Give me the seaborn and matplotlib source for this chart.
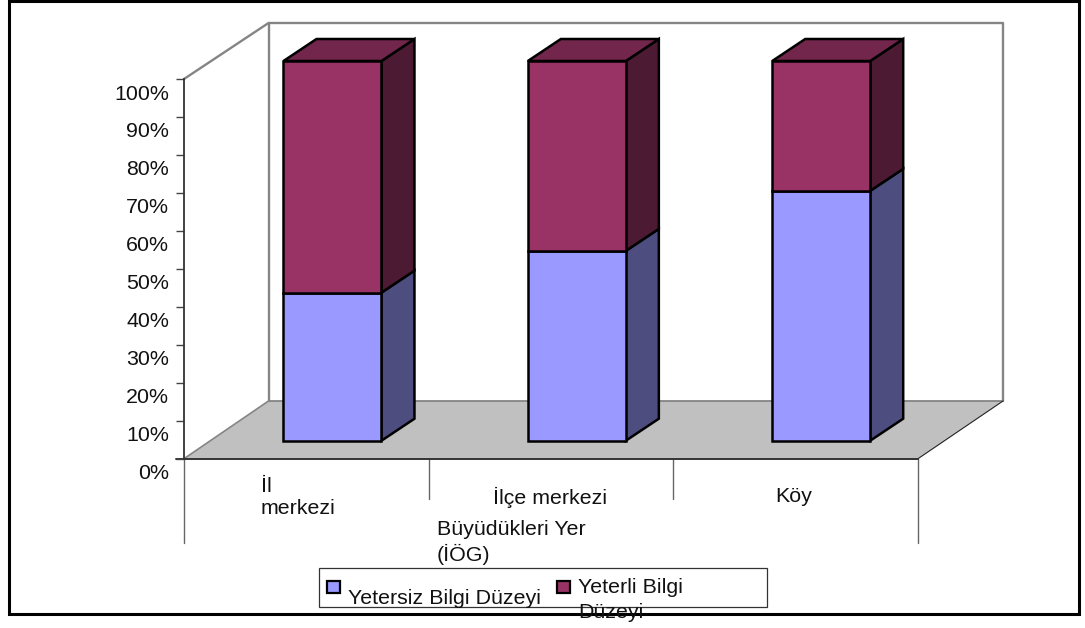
import matplotlib
matplotlib.use("Agg")
import matplotlib.pyplot as plt
from matplotlib.patches import Polygon, Rectangle
from matplotlib.ticker import PercentFormatter
from matplotlib.transforms import ScaledTranslation
import seaborn as sns

# Survey shares by the place the respondents grew up in
categories = ["İl merkezi", "İlçe merkezi", "Köy"]
category_labels = ["İl\nmerkezi", "İlçe merkezi", "Köy"]
yetersiz = [39.0, 50.0, 65.8]
yeterli = [61.0, 50.0, 34.2]
series_names = ["Yetersiz Bilgi Düzeyi", "Yeterli Bilgi\nDüzeyi"]
axis_title = "Büyüdükleri Yer\n(İÖG)"
percent_ticks = list(range(0, 101, 10))

BLUE, BLUE_SIDE = "#9999FF", "#4D4D80"
RED, RED_SIDE, RED_TOP = "#993366", "#4D1A33", "#72264C"

W, H = 1085, 628
DPI = 100
FONT = 15.4
EDGE = 1.8


def box(left, top, right, bottom):
    return [left / W, 1 - bottom / H, (right - left) / W, (bottom - top) / H]


sns.set_style("white")
plt.rcParams["font.family"] = ["Liberation Sans", "DejaVu Sans"]
plt.rcParams["text.color"] = "#111111"

fig = plt.figure(figsize=(W / DPI, H / DPI), dpi=DPI, facecolor="white")

# Pixel-scaled layer for the frame, walls, floor and captions
bg = fig.add_axes([0, 0, 1, 1], zorder=0)
bg.set_xlim(0, W)
bg.set_ylim(H, 0)
bg.axis("off")

bg.add_patch(Rectangle((8.5, 1), 1070.5, 613, fill=False, ec="black", lw=2.2, zorder=1))

wall_grey = "#858585"
bg.add_patch(Polygon([(184, 458.7), (268.5, 401), (1003, 401), (918, 458.7)],
                     fc="#C0C0C0", ec="none", zorder=1))
bg.plot([184, 268.5, 1003, 1003], [79, 23, 23, 401], color=wall_grey, lw=1.7, zorder=2)
bg.plot([268.5, 268.5], [23, 401], color=wall_grey, lw=1.7, zorder=2)
bg.plot([268.5, 1003], [401, 401], color=wall_grey, lw=1.3, zorder=2)
bg.plot([184, 268.5], [458.7, 401], color=wall_grey, lw=1.2, zorder=2)
bg.plot([918, 1003], [458.7, 401], color="#222222", lw=0.8, zorder=2)
bg.plot([176, 918], [458.7, 458.7], color="#333333", lw=1.4, zorder=3)

# Category dividers under the floor
for x, y_end in [(184, 543), (428.5, 499), (673, 499), (918, 543)]:
    bg.plot([x, x], [458.7, y_end], color="#666666", lw=1.0, zorder=2)

for (x, y), label in zip([(261, 497.5), (493, 497), (775, 497)], category_labels):
    bg.text(x, y, label, fontsize=FONT, ha="left", va="center", linespacing=1.25, zorder=5)
bg.text(437, 542.5, axis_title, fontsize=FONT, ha="left", va="center", linespacing=1.3, zorder=5)

# Legend row, its labels spill past the box as in the layout of the chart
bg.add_patch(Rectangle((319, 568), 448, 38.5, fc="white", ec="#333333", lw=0.9, zorder=3))
for x, color in [(326.5, BLUE), (556.5, RED)]:
    bg.add_patch(Rectangle((x, 580.5), 13, 12.5, fc=color, ec="black", lw=1.6, zorder=4))
bg.text(348, 598, series_names[0], fontsize=FONT, ha="left", va="center", zorder=5)
bg.text(578, 600, series_names[1], fontsize=FONT, ha="left", va="center", linespacing=1.35, zorder=5)

# Front plane of the columns: 0-100 % between the floor and the column tops
ax = fig.add_axes(box(210.3, 61, 943.4, 440.7), zorder=1)
ax.patch.set_alpha(0)
sns.barplot(x=categories, y=yetersiz, color=BLUE, saturation=1, width=0.401,
            edgecolor="black", linewidth=EDGE, zorder=4, ax=ax)
sns.barplot(x=categories, y=yeterli, bottom=yetersiz, color=RED, saturation=1, width=0.401,
            edgecolor="black", linewidth=EDGE, zorder=4, ax=ax)
ax.set_xlim(-0.5, 2.5)
ax.set_ylim(0, 100)
ax.axis("off")
for bar in ax.patches:
    bar.set_clip_on(False)

# Receding side and top faces of each column
half = 0.401 / 2
dx, dy = 33 / 244.4, 22 / 3.797
for i, (low, high) in enumerate(zip(yetersiz, yeterli)):
    right = i + half
    total = low + high
    for y0, y1, color in [(0, low, BLUE_SIDE), (low, total, RED_SIDE)]:
        ax.add_patch(Polygon([(right, y0), (right + dx, y0 + dy), (right + dx, y1 + dy), (right, y1)],
                             fc=color, ec="black", lw=EDGE, clip_on=False, zorder=3))
    ax.add_patch(Polygon([(i - half, total), (i - half + dx, total + dy),
                          (right + dx, total + dy), (right, total)],
                         fc=RED_TOP, ec="black", lw=EDGE, clip_on=False, zorder=3))

# Value axis on the front left edge, labels sit just below their ticks
yax = fig.add_axes(box(184, 79, 300, 458.7), zorder=2)
yax.patch.set_alpha(0)
yax.set_ylim(0, 100)
yax.set_xticks([])
yax.set_yticks(percent_ticks)
yax.yaxis.set_major_formatter(PercentFormatter(100, decimals=0))
sns.despine(ax=yax, left=False, bottom=True)
yax.spines["left"].set_color("#333333")
yax.spines["left"].set_linewidth(1.3)
yax.tick_params(axis="y", left=True, length=5.8, width=1.0, color="#444444",
                pad=5, labelsize=FONT, labelcolor="#111111")
shift = ScaledTranslation(0, -13 / DPI, fig.dpi_scale_trans)
for tick_label in yax.get_yticklabels():
    tick_label.set_transform(tick_label.get_transform() + shift)

fig.savefig("out.png", dpi=DPI, facecolor="white")
